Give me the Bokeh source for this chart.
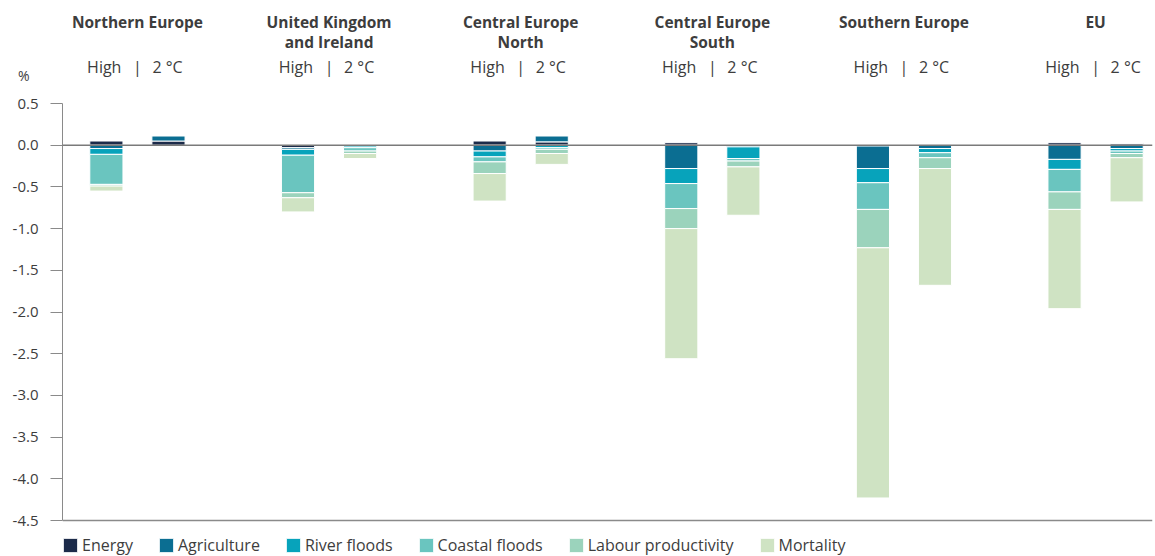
from bokeh.plotting import figure
from bokeh.models import (Span, Legend, LegendItem, FixedTicker, PrintfTickFormatter,
                          Range1d, ColumnDataSource, LinearAxis)
from bokeh.core.properties import value
from bokeh.embed import file_html
from bokeh.resources import INLINE

# ---------------- data ----------------
regions = ["Northern Europe", "United Kingdom\nand Ireland", "Central Europe\nNorth",
           "Central Europe\nSouth", "Southern Europe", "EU"]
scenarios = ["High", "2 °C"]
categories = ["Energy", "Agriculture", "River floods", "Coastal floods",
              "Labour productivity", "Mortality"]
# bar order: each region -> High, 2 °C
energy      = [0.05, 0.05, -0.03, 0.00, 0.05, 0.04, 0.03, 0.00, -0.01, 0.00, 0.03, 0.02]
agriculture = [-0.04, 0.06, -0.02, -0.01, -0.07, 0.07, -0.28, -0.02, -0.27, -0.04, -0.17, -0.04]
river       = [-0.07, 0.00, -0.07, -0.02, -0.07, -0.03, -0.18, -0.14, -0.17, -0.05, -0.12, -0.03]
coastal     = [-0.36, 0.00, -0.45, -0.04, -0.06, -0.02, -0.30, -0.03, -0.32, -0.06, -0.27, -0.03]
labour      = [-0.02, 0.00, -0.06, -0.03, -0.14, -0.05, -0.24, -0.07, -0.46, -0.13, -0.21, -0.05]
mortality   = [-0.06, 0.00, -0.17, -0.06, -0.33, -0.13, -1.56, -0.58, -3.00, -1.40, -1.19, -0.53]
series = [energy, agriculture, river, coastal, labour, mortality]
colors = ["#1c2b4a", "#0b6e92", "#07a3bb", "#6ac5bf", "#9bd3bc", "#cfe3c3"]
y_ticks = [0.5, 0.0, -0.5, -1.0, -1.5, -2.0, -2.5, -3.0, -3.5, -4.0, -4.5]
unit_label = "%"

# ---------------- layout ----------------
W, H = 1155, 556
FRAME_L = 62
ZERO_PX = 144.7      # px (from top) of y=0
SCALE = 83.4         # px per unit
y_top = ZERO_PX / SCALE
y_bot = -(H - ZERO_PX) / SCALE
def ypx(px):  # px from top -> data y
    return (ZERO_PX - px) / SCALE

FONT = "Open Sans"
TXT = "#3d3d3d"

p = figure(width=W, height=H, output_backend="svg", toolbar_location=None,
           x_range=Range1d(-0.391, 5.297), y_range=Range1d(y_bot, y_top),
           min_border_left=FRAME_L, min_border_right=3, min_border_top=0, min_border_bottom=0)
p.outline_line_color = None
p.xgrid.visible = False
p.ygrid.visible = False
p.xaxis.visible = False

ax = p.yaxis[0]
ax.bounds = (-4.5, 0.5)
ax.ticker = FixedTicker(ticks=y_ticks)
ax.formatter = PrintfTickFormatter(format="%.1f")
ax.major_tick_out = 12
ax.major_tick_in = 0
ax.minor_tick_line_color = None
ax.axis_line_color = "#8a8a8a"
ax.major_tick_line_color = "#8a8a8a"
ax.major_label_text_font = FONT
ax.major_label_text_font_size = "15px"
ax.major_label_text_color = TXT
ax.major_label_standoff = 12

# secondary (outer) left axis that only carries the "%" unit label
unit_axis = LinearAxis(ticker=FixedTicker(ticks=[0.84]),
                       formatter=PrintfTickFormatter(format=unit_label.replace("%", "%%")),
                       axis_line_color=None, major_tick_line_color=None,
                       minor_tick_line_color=None, major_tick_out=0, major_tick_in=0,
                       major_label_standoff=-20, major_label_text_font=FONT,
                       major_label_text_font_size="14px", major_label_text_color=TXT)
p.add_layout(unit_axis, "left")

p.add_layout(Span(location=0, dimension="width", line_color="#7a7a7a", line_width=1.5))
p.add_layout(Span(location=-4.5, dimension="width", line_color="#8a8a8a", line_width=1.5))

# bar positions
OFF = 0.162
n = len(regions) * len(scenarios)
bar_x = [j // 2 + (-OFF if j % 2 == 0 else OFF) for j in range(n)]

pos_base = [0.0] * n
neg_base = [0.0] * n
items = []
for cat, vals, col in zip(categories, series, colors):
    xs, tops, bottoms = [], [], []
    for j, v in enumerate(vals):
        if v > 0:
            b = pos_base[j]; t = b + v; pos_base[j] = t
        elif v < 0:
            t = neg_base[j]; b = t + v; neg_base[j] = b
        else:
            continue
        xs.append(bar_x[j]); tops.append(t); bottoms.append(b)
    src = ColumnDataSource(dict(x=xs, top=tops, bottom=bottoms))
    r = p.vbar(x="x", top="top", bottom="bottom", width=0.173, source=src,
               fill_color=col, line_color="white", line_width=1)
    items.append(LegendItem(label=cat, renderers=[r]))

legend = Legend(items=items, orientation="horizontal", location=(-1, 0),
                padding=0, margin=0, spacing=24, label_standoff=3,
                glyph_width=18, glyph_height=18, label_height=18,
                border_line_color=None, background_fill_alpha=0,
                label_text_font=FONT, label_text_font_size="16px",
                label_text_color=TXT)
p.add_layout(legend)

# headers
line1 = [r.split("\n")[0] for r in regions]
line2 = [r.split("\n")[1] if "\n" in r else "" for r in regions]
gx = list(range(len(regions)))
p.text(x=gx, y=[ypx(21)] * len(gx), text=line1, text_align="center", text_baseline="middle",
       text_font=value(FONT), text_font_style="bold", text_font_size="15.5px", text_color=TXT)
p.text(x=gx, y=[ypx(41)] * len(gx), text=line2, text_align="center", text_baseline="middle",
       text_font=value(FONT), text_font_style="bold", text_font_size="15.5px", text_color=TXT)
p.text(x=gx, y=[ypx(66)] * len(gx), text=[scenarios[0]] * len(gx), x_offset=-16,
       text_align="right", text_baseline="middle",
       text_font=value(FONT), text_font_size="16px", text_color=TXT)
p.text(x=gx, y=[ypx(66)] * len(gx), text=["|"] * len(gx),
       text_align="center", text_baseline="middle",
       text_font=value(FONT), text_font_size="16px", text_color=TXT)
p.text(x=gx, y=[ypx(66)] * len(gx), text=[scenarios[1]] * len(gx), x_offset=15,
       text_align="left", text_baseline="middle",
       text_font=value(FONT), text_font_size="16px", text_color=TXT)

open("out.html", "w").write(file_html(p, INLINE))
